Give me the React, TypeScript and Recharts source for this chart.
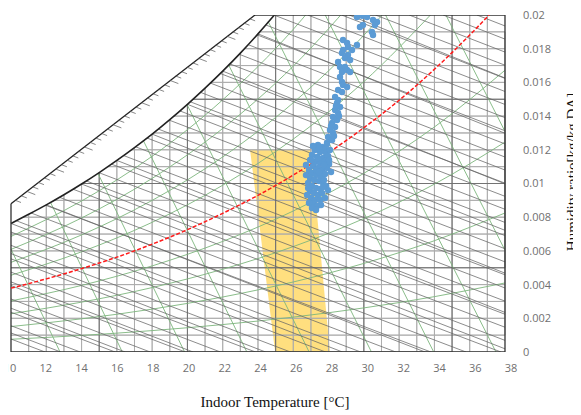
import { ComposedChart, Line, Area, Scatter, XAxis, YAxis, ZAxis } from "recharts";

const xTicks = [10, 12, 14, 16, 18, 20, 22, 24, 26, 28, 30, 32, 34, 36, 38];
const yTicks = [0, 0.002, 0.004, 0.006, 0.008, 0.01, 0.012, 0.014, 0.016, 0.018, 0.02];

// background psychrometric chart [°C, kg/kg]
const saturation = [
  [10, 0.00763], [11, 0.00817], [12, 0.00873], [13, 0.00933], [14, 0.00997],
  [15, 0.01065], [16, 0.01137], [17, 0.01213], [18, 0.01293], [19, 0.01379],
  [20, 0.0147], [21, 0.01566], [22, 0.01667], [23, 0.01774], [24, 0.01888], [24.93, 0.02],
];
const scaleLine = [[10, 0.0088], [23.83, 0.02]];
const frame = [[23.83, 0.02], [38, 0.02], [38, 0], [10, 0], [10, 0.0088]];

// tick marks of the enthalpy scale, 33..74 kJ/kg
const scaleTicks = [
  [10.25, 0.009], [10.58, 0.00927], [10.9, 0.00953], [11.23, 0.0098], [11.55, 0.01006], [11.88, 0.01033],
  [12.2, 0.01059], [12.53, 0.01086], [12.85, 0.01112], [13.18, 0.01138], [13.5, 0.01164], [13.83, 0.01191],
  [14.15, 0.01217], [14.48, 0.01244], [14.8, 0.0127], [15.13, 0.01297], [15.45, 0.01323], [15.78, 0.01349],
  [16.1, 0.01375], [16.42, 0.01401], [16.75, 0.01428], [17.07, 0.01454], [17.39, 0.0148], [17.72, 0.01507],
  [18.04, 0.01533], [18.36, 0.01559], [18.69, 0.01586], [19.01, 0.01612], [19.33, 0.01638], [19.66, 0.01664],
  [19.98, 0.0169], [20.3, 0.01716], [20.62, 0.01743], [20.95, 0.01769], [21.27, 0.01795], [21.59, 0.01821],
  [21.91, 0.01847], [22.24, 0.01874], [22.56, 0.019], [22.88, 0.01926], [23.2, 0.01952], [23.52, 0.01978],
];
const scaleTickFirst = 33;

const gridTemps = [11, 12, 13, 14, 15, 16, 17, 18, 19, 20, 21, 22, 23, 24, 25, 26, 27, 28, 29, 30, 31, 32, 33, 34, 35, 36, 37];
const gridHum = [0.001, 0.002, 0.003, 0.004, 0.005, 0.006, 0.007, 0.008, 0.009, 0.01, 0.011, 0.012, 0.013, 0.014, 0.015, 0.016, 0.017, 0.018, 0.019];
const gridHumStart = [10, 10, 10, 10, 10, 10, 10, 10.69, 12.45, 14.04, 15.49, 16.83, 18.08, 19.23, 20.31, 21.34, 22.31, 23.23, 24.1];

// enthalpy lines, every 2 kJ/kg from 12: [t1, w1, t2, w2]
const enthalpyLines = [
  [10, 0.00077, 11.93, 0], [10, 0.00156, 13.92, 0], [10, 0.00236, 15.9, 0], [10, 0.00315, 17.89, 0],
  [10, 0.00394, 19.88, 0], [10, 0.00474, 21.87, 0], [10, 0.00553, 23.86, 0], [10, 0.00633, 25.84, 0],
  [10, 0.00712, 27.83, 0], [10.3, 0.00779, 29.82, 0], [11.14, 0.00825, 31.81, 0], [11.96, 0.00871, 33.8, 0],
  [12.75, 0.00918, 35.79, 0], [13.52, 0.00966, 37.77, 0], [14.27, 0.01015, 38, 0.00069], [14.99, 0.01064, 38, 0.00147],
  [15.69, 0.01115, 38, 0.00224], [16.38, 0.01166, 38, 0.00302], [17.06, 0.01218, 38, 0.0038], [17.71, 0.0127, 38, 0.00458],
  [18.35, 0.01323, 38, 0.00535], [18.97, 0.01376, 38, 0.00613], [19.57, 0.01431, 38, 0.00691], [20.16, 0.01485, 38, 0.00769],
  [20.74, 0.01541, 38, 0.00847], [21.3, 0.01596, 38, 0.00924], [21.86, 0.01653, 38, 0.01002], [22.4, 0.0171, 38, 0.0108],
  [22.93, 0.01767, 38, 0.01157], [23.44, 0.01824, 38, 0.01235], [23.95, 0.01882, 38, 0.01313], [24.44, 0.01941, 38, 0.01391],
  [24.9, 0.02, 38, 0.01469], [26.82, 0.02, 38, 0.01546], [28.74, 0.02, 38, 0.01624], [30.66, 0.02, 38, 0.01702],
  [32.57, 0.02, 38, 0.0178], [34.49, 0.02, 38, 0.01857], [36.41, 0.02, 38, 0.01935],
];

// wet-bulb lines, every 2 °C
const wetBulbLines = [
  [10, 0.00113, 12.82, 0], [10, 0.0026, 16.47, 0], [10, 0.00416, 20.32, 0], [10, 0.00584, 24.43, 0],
  [10, 0.00763, 28.79, 0], [12, 0.00873, 33.47, 0], [14, 0.00997, 38, 0.00019], [16, 0.01137, 38, 0.00235],
  [18, 0.01293, 38, 0.00468], [20, 0.0147, 38, 0.00722], [22, 0.01667, 38, 0.00998], [24, 0.01888, 38, 0.01298],
  [29.17, 0.02, 38, 0.01626],
];

// specific volume lines (green, steep)
const volumeLines = [
  [12.78, 0, 10, 0.00611], [16.31, 0, 12.25, 0.00886], [19.84, 0, 14.93, 0.0106], [23.37, 0, 17.5, 0.01255],
  [26.9, 0, 19.98, 0.01468], [30.43, 0, 22.33, 0.01705], [33.96, 0, 24.58, 0.0196], [37.49, 0, 27.81, 0.02],
  [38, 0.00604, 31.23, 0.02], [38, 0.01309, 34.65, 0.02],
];

// relative humidity curves (green)
const rhTemps = [10, 14, 18, 22, 26, 30, 34, 38];
const rh10 = [0.000755, 0.000983, 0.00127, 0.001628, 0.002071, 0.002617, 0.003285, 0.004098];
const rh20 = [0.001511, 0.001969, 0.002544, 0.003264, 0.004157, 0.005257, 0.006606, 0.00825];
const rh30 = [0.00227, 0.002959, 0.003824, 0.00491, 0.006256, 0.007919, 0.009962, 0.012458];
const rh40 = [0.00303, 0.003951, 0.00511, 0.006563, 0.008369, 0.010604, 0.013354, 0.016722];
const rh60 = [0.004556, 0.005946, 0.007696, 0.009897, 0.012638, 0.016042, 0.020248];
const rh70 = [0.005322, 0.006948, 0.008998, 0.011577, 0.014795, 0.018797, 0.02375];
const rh80 = [0.00609, 0.007953, 0.010304, 0.013266, 0.016966, 0.021575];
const rh90 = [0.006859, 0.008961, 0.011616, 0.014965, 0.019152, 0.024378];

// red dashed 50% RH line
const rh50Temps = [10, 12, 14, 16, 18, 20, 22, 24, 26, 28, 30, 32, 34, 36, 37.1];
const rh50 = [0.00379, 0.00434, 0.00495, 0.00563, 0.0064, 0.00726, 0.00823, 0.0093, 0.0105, 0.01183, 0.01331, 0.01494, 0.01678, 0.01881, 0.02];

// comfort zone
const zoneTemps = [23.55, 24.97, 27.0, 28.08];
const zoneLow = [0.012, 0, 0, 0];
const zoneHigh = [0.012, 0.012, 0.012, 0];

// measured indoor temperature / humidity ratio
const measTemp = [
  29.61, 29.9, 30.18, 30.52, 30.75, 30.63, 30.46, 30.52, 29.95, 29.78,
  28.82, 29.05, 29.1, 29.33, 29.61, 28.82, 28.76, 29.1, 28.93, 29.22,
  28.54, 28.65, 28.93, 28.76, 29.05, 29.22, 28.65, 28.76, 28.82, 29.05, 28.54, 28.76,
  28.37, 28.54, 28.48, 28.65, 28.37, 28.54, 28.25, 28.48, 28.59, 28.42,
  28.2, 28.37, 28.08, 28.25, 27.97, 28.2, 27.91, 28.31, 28.14,
  27.4, 27.63, 27.8, 27.23, 27.52, 27.86, 27.06, 27.35, 27.69, 27.97,
  26.95, 27.23, 27.52, 27.8, 28.03, 27.12, 27.4, 27.63, 27.91, 26.89,
  27.06, 27.29, 27.57, 27.8, 26.95, 27.18, 27.46, 27.69, 26.84, 27.06,
  27.29, 27.52, 26.95, 27.18, 27.4, 27.01, 27.23, 27.12, 27.35, 27.06,
  27.74, 27.86, 27.63, 26.84, 27.52, 27.29, 27.01, 27.74, 27.46, 28.03,
  26.72, 26.78, 28.08, 28.14, 27.97, 27.8, 27.57, 26.89, 27.4, 27.12,
  27.91, 26.72, 27.29, 27.69, 27.46,
];
const measHum = [
  0.01988, 0.01995, 0.01988, 0.0197, 0.01959, 0.01941, 0.01899, 0.01881, 0.01941, 0.01929,
  0.01852, 0.01834, 0.0181, 0.01792, 0.01822, 0.01792, 0.01775, 0.01763, 0.01745, 0.01733,
  0.01721, 0.01691, 0.01691, 0.01662, 0.01674, 0.01662, 0.01632, 0.01602, 0.01585, 0.01573, 0.01555, 0.01543,
  0.01513, 0.01496, 0.01478, 0.01454, 0.01436, 0.01418, 0.01395, 0.01377, 0.01401, 0.0146,
  0.01359, 0.01335, 0.01318, 0.013, 0.01276, 0.01258, 0.0124, 0.01282, 0.01341,
  0.01229, 0.01217, 0.01205, 0.01199, 0.01187, 0.01181, 0.01169, 0.01157, 0.01151, 0.01163,
  0.0114, 0.01128, 0.01122, 0.01134, 0.01116, 0.01104, 0.01092, 0.0108, 0.01092, 0.0108,
  0.01062, 0.0105, 0.01045, 0.01056, 0.01033, 0.01021, 0.01015, 0.01003, 0.01003, 0.00985,
  0.00973, 0.00967, 0.00956, 0.00944, 0.00932, 0.00914, 0.00902, 0.00878, 0.00867, 0.00855,
  0.01021, 0.00985, 0.00944, 0.00973, 0.00902, 0.0108, 0.0114, 0.0111, 0.01211, 0.0114,
  0.0105, 0.00932, 0.01199, 0.01068, 0.00961, 0.00914, 0.00872, 0.00884, 0.01151, 0.01223,
  0.01234, 0.0111, 0.00843, 0.00979, 0.01068,
];

const pts = (a: number[][]) => a.map(([t, w]) => ({ t, w }));
const segPts = (s: number[]) => [{ t: s[0], w: s[1] }, { t: s[2], w: s[3] }];
const curve = (ts: number[], ws: number[]) => ws.map((w, i) => ({ t: ts[i], w }));

const satTop = (t: number) => (t <= 24 ? saturation[t - 10][1] : 0.02);
const isMajorT = (t: number) => t % 5 === 0;
const isMajorW = (i: number) => (i + 1) % 5 === 0;

// grid drawn as one up-and-down path per family (single straight segments did not show up);
// the return legs retrace the same line and the steps run along the frame
const vGridPath = (major: boolean) =>
  gridTemps
    .filter((t) => isMajorT(t) === major)
    .flatMap((t) => [{ t, w: 0 }, { t, w: satTop(t) }, { t, w: 0 }]);
const hGridPath = (major: boolean) =>
  gridHum
    .map((w, i) => ({ w, i }))
    .filter(({ i }) => isMajorW(i) === major)
    .flatMap(({ w, i }) => [{ t: 38, w }, { t: gridHumStart[i], w }, { t: 38, w }]);

const zoneData = zoneTemps.map((t, i) => ({ t, band: [zoneLow[i], zoneHigh[i]] }));
const measData = measTemp.map((t, i) => ({ t, w: measHum[i] }));
const tickData = scaleTicks.map(([t, w], i) => ({ t, w, h: scaleTickFirst + i }));

const line = (key: string, data: any[], stroke: string, width: number, type: any = "linear", dash?: string) => (
  <Line
    key={key}
    xAxisId="img"
    data={data}
    dataKey="w"
    type={type}
    stroke={stroke}
    strokeWidth={width}
    strokeDasharray={dash}
    dot={false}
    activeDot={false}
    legendType="none"
    isAnimationActive={false}
  />
);

const ScaleTick = (props: any) => {
  const { cx, cy, payload } = props;
  const len = payload.h % 5 === 0 ? 9 : 6;
  return <line x1={cx} y1={cy} x2={cx + len * 0.934} y2={cy + len * 0.357} stroke="#555" strokeWidth={0.7} />;
};

const tickStyle = { fontSize: 11, fill: "#707070", fontFamily: "'Open Sans', sans-serif" };
const gridMinor = "#acacac";
const gridMajor = "#727272";
const diag = "#666";
const green = "#7db57d";

export default function App() {
  return (
    <div style={{ position: "relative", width: 581, height: 407, marginLeft: -8 }}>
      <ComposedChart width={581} height={407} margin={{ top: 7, right: 10, bottom: 33, left: 10 }}>
        <XAxis xAxisId="img" type="number" dataKey="t" domain={[9.9433, 38.3405]} allowDataOverflow hide height={0} />
        <XAxis
          xAxisId="lab"
          type="number"
          dataKey="t"
          domain={[10, 38]}
          ticks={xTicks}
          interval={0}
          allowDataOverflow
          axisLine={false}
          tickLine={false}
          tickSize={0}
          tickMargin={12}
          height={30}
          tick={tickStyle}
        />
        <YAxis
          orientation="right"
          type="number"
          dataKey="w"
          domain={[0, 0.02]}
          ticks={yTicks}
          interval={0}
          allowDataOverflow
          axisLine={false}
          tickLine={false}
          tickSize={0}
          tickMargin={12}
          width={60}
          tick={{ ...tickStyle, textAnchor: "start" }}
          tickFormatter={(v: number) => String(Number(v.toFixed(3)))}
        />
        <ZAxis range={[32, 32]} />

        {line("vMinor", vGridPath(false), gridMinor, 0.9)}
        {line("hMinor", hGridPath(false), gridMinor, 0.9)}
        {line("vMajor", vGridPath(true), gridMajor, 0.9)}
        {line("hMajor", hGridPath(true), gridMajor, 0.9)}
        {[rh10, rh20, rh30, rh40, rh60, rh70, rh80, rh90].map((ws, i) =>
          line(`rh${i}`, curve(rhTemps, ws), green, 0.9, "monotone")
        )}
        {volumeLines.map((s, i) => line(`vol${i}`, segPts(s), green, 0.9))}
        {enthalpyLines.map((s, i) => line(`en${i}`, segPts(s), diag, 0.75))}
        {wetBulbLines.map((s, i) => line(`wb${i}`, segPts(s), diag, 0.75))}
        {line("sat", pts(saturation), "#222", 1.6, "monotone")}
        {line("scale", pts(scaleLine), "#222", 1.3)}
        {line("frame", pts(frame), "#333", 1.3)}
        <Scatter xAxisId="img" data={tickData} shape={ScaleTick} legendType="none" isAnimationActive={false} />

        <Area
          xAxisId="img"
          data={zoneData}
          dataKey="band"
          type="linear"
          stroke="none"
          fill="#FFC000"
          fillOpacity={0.5}
          legendType="none"
          isAnimationActive={false}
        />
        {line("rh50", curve(rh50Temps, rh50), "#FF1A1A", 1.5, "monotone", "4 2")}
        <Scatter xAxisId="img" data={measData} fill="#5B9BD5" shape="circle" isAnimationActive={false} />
      </ComposedChart>
      <div
        style={{
          position: "absolute",
          left: 175,
          width: 200,
          top: 387,
          textAlign: "center",
          fontFamily: "'Liberation Serif', serif",
          fontSize: 15,
          lineHeight: "15px",
          whiteSpace: "nowrap",
          color: "#111",
        }}
      >
        Indoor Temperature [°C]
      </div>
      <div
        style={{
          position: "absolute",
          left: 572,
          top: 164,
          transform: "translate(-50%, -50%) rotate(-90deg)",
          fontFamily: "'Liberation Serif', serif",
          fontSize: 15,
          lineHeight: "15px",
          whiteSpace: "nowrap",
          color: "#111",
        }}
      >
        Humidity ratio[kg/kg DA]
      </div>
    </div>
  );
}
